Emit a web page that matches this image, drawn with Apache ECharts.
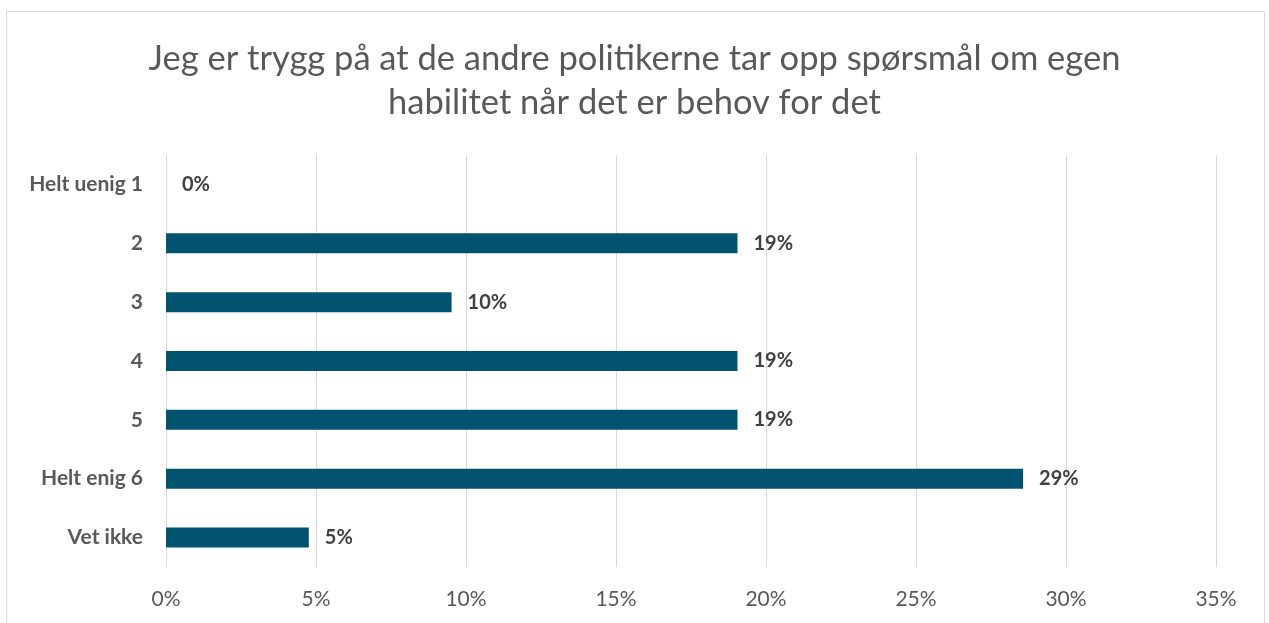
<!DOCTYPE html>
<html>
<head>
<meta charset="utf-8">
<script src="https://cdn.jsdelivr.net/npm/echarts@6/dist/echarts.min.js"></script>
<style>
  html, body { margin: 0; padding: 0; background: #fff; }
  #chart { width: 1269px; height: 623px; }
</style>
</head>
<body>
<div id="chart"></div>
<script>
const categories = ['Helt uenig 1', '2', '3', '4', '5', 'Helt enig 6', 'Vet ikke'];
const values = [0, 19.05, 9.52, 19.05, 19.05, 28.57, 4.76];
const xTicks = [0, 5, 10, 15, 20, 25, 30, 35];

const chart = echarts.init(document.getElementById('chart'));
const option = {
    backgroundColor: '#fff',
    textStyle: { fontFamily: 'Lato' },
    title: {
        text: 'Jeg er trygg på at de andre politikerne tar opp spørsmål om egen\nhabilitet når det er behov for det',
        left: 'center',
        top: 32,
        textStyle: {
            fontFamily: 'Lato',
            fontSize: 34.5,
            fontWeight: 'normal',
            color: '#595959',
            lineHeight: 44
        }
    },
    graphic: [{
        type: 'rect',
        shape: { x: 6.5, y: 11.5, width: 1258, height: 640 },
        style: { fill: 'none', stroke: '#d9d9d9', lineWidth: 1 },
        silent: true
    }],
    grid: { left: 166, right: 53, top: 155, bottom: 56 },
    xAxis: {
        type: 'value',
        min: xTicks[0],
        max: xTicks[xTicks.length - 1],
        interval: 5,
        axisLine: { show: false },
        axisTick: { show: false },
        splitLine: { lineStyle: { color: '#d9d9d9', width: 1 } },
        axisLabel: {
            formatter: v => v + '%',
            color: '#595959',
            fontSize: 21,
            margin: 22
        }
    },
    yAxis: {
        type: 'category',
        data: categories,
        inverse: true,
        axisLine: { show: false },
        axisTick: { show: false },
        axisLabel: {
            color: '#595959',
            fontSize: 21,
            fontWeight: 'bold',
            margin: 23
        }
    },
    series: [{
        type: 'bar',
        data: values,
        barWidth: 20,
        itemStyle: { color: '#02536f' },
        label: {
            show: true,
            position: 'right',
            distance: 16,
            formatter: p => Math.round(p.value) + '%',
            color: '#404040',
            fontSize: 20,
            fontWeight: 'bold'
        }
    }]
};
chart.setOption(option);
</script>
</body>
</html>
